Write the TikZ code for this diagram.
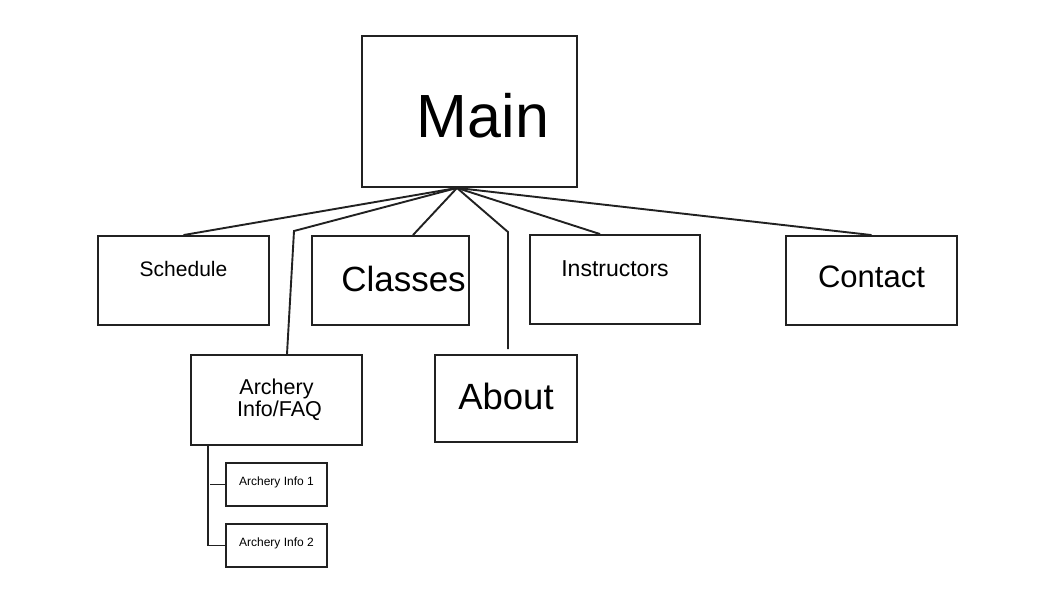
\documentclass[tikz,border=0pt]{standalone}
\usepackage{fontspec}
\setmainfont{Liberation Sans}
\begin{document}
\begin{tikzpicture}[x=1pt,y=-1pt,
    page/.style={draw=black!87, line width=1.9pt, inner sep=0pt,
      font=\fontsize{#1}{#1}\selectfont},
    link/.style={draw=black!87, line width=1.9pt}]
  \useasboundingbox (0,0) rectangle (1055,603);
  % pages
  \node[page=61, minimum width=215pt, minimum height=151pt,
    text height=52pt, text depth=0pt] (main) at (469.5,111.5) {\hspace*{27pt}Main};
  \node[page=21, minimum width=171pt, minimum height=89pt,
    text height=0pt, text depth=8pt] (schedule) at (183.5,280.5) {Schedule};
  \node[page=35, minimum width=157pt, minimum height=89pt,
    text height=22pt, text depth=0pt] (classes) at (390.5,280.5) {\hspace*{26pt}Classes};
  \node[page=23, minimum width=170pt, minimum height=89pt,
    text height=0pt, text depth=6.5pt] (instructors) at (615,279.5) {Instructors};
  \node[page=31, minimum width=171pt, minimum height=89pt,
    text height=13pt, text depth=0pt] (contact) at (871.5,280.5) {Contact};
  \node[page=21.5, font=\fontsize{21.5}{22}\selectfont, align=center,
    minimum width=171pt, minimum height=90pt] (faq) at (276.5,400) {Archery\\\hspace*{6pt}Info/FAQ};
  \node[page=36.5, minimum width=142pt, minimum height=87pt,
    text height=21pt, text depth=0pt] (about) at (506,398.5) {About};
  \node[page=12, minimum width=101pt, minimum height=43pt,
    text height=1pt, text depth=0pt] (info1) at (276.5,484.5) {Archery Info 1};
  \node[page=12, minimum width=101pt, minimum height=43pt,
    text height=1pt, text depth=0pt] (info2) at (276.5,545.5) {Archery Info 2\hspace{6pt}};
  % links from main
  \coordinate (hub) at ([xshift=-12.5pt]main.south);
  \coordinate (bendfaq) at (294,231);
  \coordinate (bendabout) at (508,232);
  \draw[link] (hub) -- (schedule.north);
  \draw[link] (hub) -- (bendfaq) -- ([xshift=10.5pt]faq.north);
  \draw[link] (hub) -- ([xshift=22.5pt]classes.north);
  \draw[link] (hub) -- (bendabout) -- ([xshift=2pt,yshift=5pt]about.north);
  \draw[link] (hub) -- ([xshift=-15pt]instructors.north);
  \draw[link] (hub) -- (contact.north);
  % sub pages
  \coordinate (stem) at ([xshift=-68.5pt]faq.south);
  \draw[link] (stem) |- (info2.west);
  \draw[link] ([xshift=2pt]stem |- info1.west) -- (info1.west);
\end{tikzpicture}
\end{document}
